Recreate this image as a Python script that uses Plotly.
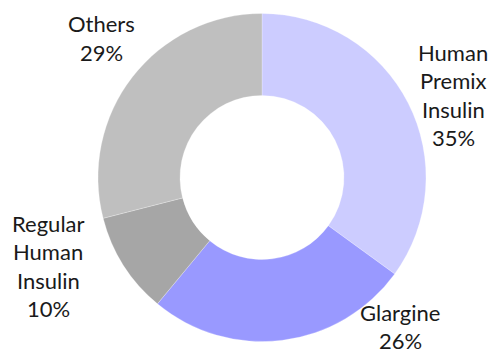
import plotly.graph_objects as go

# Market share by insulin type
categories = ["Human Premix Insulin", "Glargine", "Regular Human Insulin", "Others"]
shares = [35, 26, 10, 29]
colors = ["#CCCCFF", "#9999FF", "#A6A6A6", "#BFBFBF"]

# label text lines (name words + percentage) and where each block sits
label_lines = [
    ["Human", "Premix", "Insulin"],
    ["Glargine"],
    ["Regular", "Human", "Insulin"],
    ["Others"],
]
W, H = 491, 351
label_anchor = [(453, 52), (400, 312), (48, 223), (101, 24)]  # px, first-line centre
line_step = 28.6

fig = go.Figure(
    go.Pie(
        labels=categories,
        values=shares,
        hole=0.5,
        sort=False,
        direction="clockwise",
        rotation=0,
        textinfo="none",
        hoverinfo="label+percent",
        marker=dict(colors=colors, line=dict(color="rgba(255,255,255,0.5)", width=0.5)),
        domain=dict(x=[98 / W, 426 / W], y=[(H - 341.5) / H, (H - 13.5) / H]),
        showlegend=False,
    )
)

annotations = []
for words, val, (ax, ay) in zip(label_lines, shares, label_anchor):
    for i, txt in enumerate(words + [f"{val}%"]):
        y_px = ay + i * line_step
        annotations.append(
            dict(
                x=ax / W,
                y=(H - y_px) / H,
                xref="paper",
                yref="paper",
                text=txt,
                showarrow=False,
                xanchor="center",
                yanchor="middle",
                font=dict(family="Lato", size=22, color="#1a1a1a"),
            )
        )

fig.update_layout(
    width=W,
    height=H,
    margin=dict(l=0, r=0, t=0, b=0),
    paper_bgcolor="white",
    plot_bgcolor="white",
    annotations=annotations,
)

fig.write_html("out.html")
